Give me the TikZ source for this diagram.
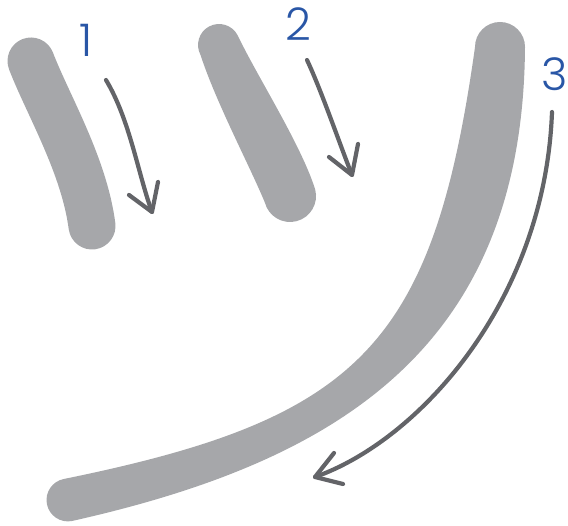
\documentclass[tikz,border=0pt]{standalone}
\usepackage{fontspec}
\newfontfamily\numfont{Poppins Light}
\definecolor{strokegray}{HTML}{A6A7AA}
\definecolor{arrowgray}{HTML}{636468}
\definecolor{numblue}{HTML}{2956A6}
\begin{document}
\begin{tikzpicture}[x=1pt,y=-1pt,
  brush/.style={draw=strokegray,line cap=round,line join=round},
  guide/.style={draw=arrowgray,line width=4.2pt,line cap=round,line join=round},
  num/.style={text=numblue,font=\numfont\fontsize{45}{45}\selectfont,inner sep=0pt}]
\useasboundingbox (0,0) rectangle (568,526);
% stroke 1
\draw[brush,line width=47pt] (31,61) .. controls (48,105) and (84,165) .. (92,226);
% stroke 2 (tapered)
\fill[strokegray] (200.5,54.9) arc[start angle=151.9,end angle=331.9,radius=21]
  .. controls (257,76) and (300.9,144.2) .. (315.2,189.5)
  arc[start angle=-14.5,end angle=165.5,radius=26]
  .. controls (249.6,165.7) and (216,102.4) .. (200.5,54.9) -- cycle;
% stroke 3 (tapered)
\fill[strokegray] (475,47) arc[start angle=180,end angle=360,radius=25]
  .. controls (523,350) and (335,462) .. (72,521)
  arc[start angle=79,end angle=259,radius=21.4]
  .. controls (358,419) and (433,347) .. (475,47) -- cycle;
% numbers
\node[num] (n1) at (86,40) {1};
\node[num] (n2) at (298,24) {2};
\node[num] (n3) at (555,74) {3};
% arrows
\coordinate (a1s) at (106,80); \coordinate (a1t) at (152,212);
\draw[guide] (a1s) .. controls (130,120) and (138,174) .. (a1t);
\draw[guide] (129,195) -- (a1t) -- (158,182);
\coordinate (a2s) at (307,60); \coordinate (a2t) at (352,175);
\draw[guide] (a2s) .. controls (322,92) and (340,145) .. (a2t);
\draw[guide] (329,157) -- (a2t) -- (358,144);
\coordinate (a3s) at (552,112); \coordinate (a3t) at (315,477);
\draw[guide] (a3s) .. controls (545,300) and (420,440) .. (a3t);
\draw[guide] (334,453) -- (a3t) -- (343,484);
\end{tikzpicture}
\end{document}
